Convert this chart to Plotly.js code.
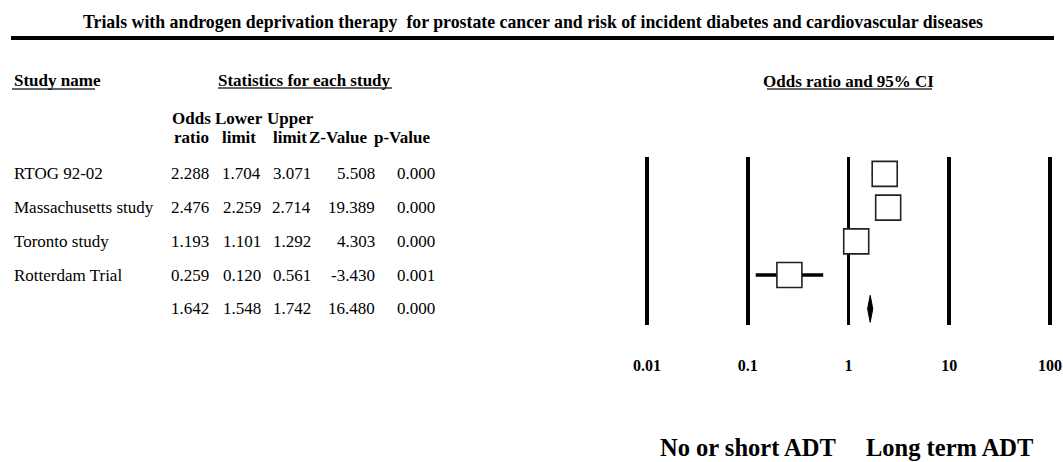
<!DOCTYPE html>
<html>
<head>
<meta charset="utf-8">
<script src="https://cdn.plot.ly/plotly-3.0.1.min.js"></script>
<style>html,body{margin:0;padding:0;background:#fff;}#chart{width:1063px;height:462px;}</style>
</head>
<body>
<div id="chart"></div>
<script>
// ---- data ----
var studyNames = ["RTOG 92-02", "Massachusetts study", "Toronto study", "Rotterdam Trial", ""];
var oddsRatio  = [2.288, 2.476, 1.193, 0.259, 1.642];
var lowerLimit = [1.704, 2.259, 1.101, 0.120, 1.548];
var upperLimit = [3.071, 2.714, 1.292, 0.561, 1.742];
var zValue     = [5.508, 19.389, 4.303, -3.430, 16.480];
var pValue     = [0.000, 0.000, 0.000, 0.001, 0.000];
var headerTop    = ["Odds", "Lower", "Upper", "", ""];
var headerBottom = ["ratio", "limit", "limit", "Z-Value", "p-Value"];
var tickVals   = [0.01, 0.1, 1, 10, 100];
var tickLabels = ["0.01", "0.1", "1", "10", "100"];
var titleText  = "Trials with androgen deprivation therapy  for prostate cancer and risk of incident diabetes and cardiovascular diseases";
var favourLeft = "No or short ADT";
var favourRight = "Long term ADT";

// ---- layout helpers ----
var W = 1063, H = 462;
function px(x) { return x / W; }
function py(y) { return 1 - y / H; }
var FONT = "Liberation Serif, Times New Roman, serif";

var nStudies = 4;
var rows = studyNames.map(function (_, i) { return i; });
var studyRows = rows.slice(0, nStudies);

// study markers with CI
var studyTrace = {
  type: "scatter", mode: "markers",
  x: oddsRatio.slice(0, nStudies),
  y: studyRows,
  marker: { symbol: "square", size: 25, color: "#ffffff", line: { color: "#222222", width: 1.6 } },
  error_x: {
    type: "data", symmetric: false,
    array: oddsRatio.slice(0, nStudies).map(function (v, i) { return upperLimit[i] - v; }),
    arrayminus: oddsRatio.slice(0, nStudies).map(function (v, i) { return v - lowerLimit[i]; }),
    thickness: 3.5, width: 0, color: "#000000"
  },
  hoverinfo: "x+y", showlegend: false
};

// summary diamond
var s = nStudies, halfH = 0.4;
var diamondTrace = {
  type: "scatter", mode: "lines",
  x: [lowerLimit[s], oddsRatio[s], upperLimit[s], oddsRatio[s], lowerLimit[s]],
  y: [rows[s], rows[s] - halfH, rows[s], rows[s] + halfH, rows[s]],
  fill: "toself", fillcolor: "#000000",
  line: { color: "#000000", width: 1 },
  hoverinfo: "skip", showlegend: false
};

var annotations = [];
function addText(text, x, y, opts) {
  var a = {
    text: text, x: x, y: y, xref: "paper", yref: "paper",
    showarrow: false, xanchor: "center", yanchor: "middle",
    font: { family: FONT, size: 17, color: "#000000" }
  };
  for (var k in opts) {
    if (k === "font") { for (var f in opts.font) a.font[f] = opts.font[f]; }
    else a[k] = opts[k];
  }
  annotations.push(a);
}

// title
addText("<b>" + titleText + "</b>", px(533), py(22), { font: { size: 17.8 } });
// column headers
addText("<b>Study name</b>", px(12), py(80), { xanchor: "left" });
addText("<b>Statistics for each study</b>", px(304), py(80), {});
addText("<b>Odds ratio and 95% CI</b>", px(848.5), py(81), {});
var headerCenters = [191.5, 238.5, 290, 337.5, 402.5];
headerTop.forEach(function (t, i) { if (t) addText("<b>" + t + "</b>", px(headerCenters[i]), py(118), {}); });
headerBottom.forEach(function (t, i) { addText("<b>" + t + "</b>", px(headerCenters[i]), py(137), {}); });

// table rows (placed on the forest plot's y axis)
var colRight = [211, 263, 313, 377, 437];
var cols = [oddsRatio, lowerLimit, upperLimit, zValue, pValue];
rows.forEach(function (r) {
  if (studyNames[r]) {
    annotations.push({ text: studyNames[r], x: px(12), y: r, xref: "paper", yref: "y",
      showarrow: false, xanchor: "left", yanchor: "middle",
      font: { family: FONT, size: 17, color: "#000000" } });
  }
  cols.forEach(function (c, j) {
    annotations.push({ text: c[r].toFixed(3), x: px(colRight[j]), y: r, xref: "paper", yref: "y",
      showarrow: false, xanchor: "right", yanchor: "middle",
      font: { family: FONT, size: 17, color: "#000000" } });
  });
});

// favours labels centred under the 0.1 and 10 lines (log axis: annotation x in log10 units)
annotations.push({ text: "<b>" + favourLeft + "</b>", x: Math.log10(tickVals[1]), xref: "x", y: 0, yref: "paper",
  showarrow: false, xanchor: "center", yanchor: "bottom", borderpad: 0, font: { family: FONT, size: 24.5, color: "#000000" } });
annotations.push({ text: "<b>" + favourRight + "</b>", x: Math.log10(tickVals[3]), xref: "x", y: 0, yref: "paper",
  showarrow: false, xanchor: "center", yanchor: "bottom", borderpad: 0, font: { family: FONT, size: 24.5, color: "#000000" } });

var shapes = [
  { type: "line", xref: "paper", yref: "paper", x0: px(11), x1: px(1054), y0: py(38), y1: py(38), line: { color: "#000", width: 4 } },
  { type: "line", xref: "paper", yref: "paper", x0: px(12), x1: px(95), y0: py(89), y1: py(89), line: { color: "#333", width: 1.5 } },
  { type: "line", xref: "paper", yref: "paper", x0: px(218), x1: px(392), y0: py(88), y1: py(88), line: { color: "#333", width: 1.5 } },
  { type: "line", xref: "paper", yref: "paper", x0: px(767), x1: px(932), y0: py(89), y1: py(89), line: { color: "#333", width: 1.5 } }
];

var layout = {
  width: W, height: H,
  margin: { l: 0, r: 0, t: 0, b: 0 },
  paper_bgcolor: "#ffffff", plot_bgcolor: "#ffffff",
  font: { family: FONT, color: "#000000" },
  showlegend: false,
  xaxis: {
    type: "log", range: [-2.03, 2.03], domain: [px(644), px(1053)],
    tickmode: "array", tickvals: tickVals, ticktext: tickLabels,
    showgrid: true, gridcolor: "#000000", gridwidth: 3.5,
    zeroline: false, showline: false,
    ticks: "outside", ticklen: 26, tickcolor: "rgba(0,0,0,0)",
    tickfont: { family: FONT, size: 16, color: "#000000", weight: "bold" },
    fixedrange: true
  },
  yaxis: {
    range: [4.48, -0.5], domain: [py(325), py(157)],
    visible: false, showgrid: false, zeroline: false, fixedrange: true
  },
  annotations: annotations,
  shapes: shapes
};

Plotly.newPlot("chart", [studyTrace, diamondTrace], layout, { staticPlot: true, displayModeBar: false });
</script>
</body>
</html>
